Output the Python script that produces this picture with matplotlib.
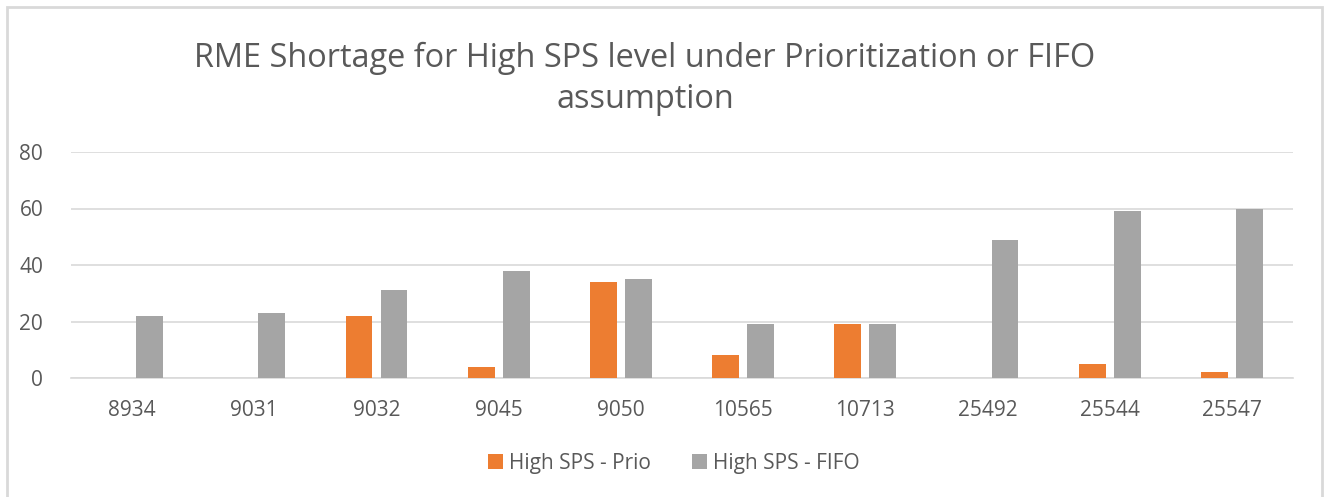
import matplotlib
matplotlib.use('Agg')
from matplotlib import pyplot as plt
from matplotlib.patches import Rectangle
import numpy as np

plt.rcParams['font.family'] = ['Open Sans', 'DejaVu Sans']

# data
categories = ['8934', '9031', '9032', '9045', '9050', '10565', '10713', '25492', '25544', '25547']
prio = [0, 0, 22, 4, 34, 8, 19, 0, 5, 2]
fifo = [22, 23, 31, 38, 35, 19, 19, 49, 59, 60]

W, H = 1328, 497
fig = plt.figure(figsize=(W/100, H/100), dpi=100)

# chart border
fig.patches.append(Rectangle((6.5/W, -0.05), (1322-6.5)/W, 1.05 - 7/H,
                             transform=fig.transFigure, fill=False,
                             edgecolor='#d9d9d9', linewidth=2))

ax = fig.add_axes([71/W, 1-378/H, (1293-71)/W, (378-152)/H])

x = np.arange(len(categories))
bw = 0.22
off = 0.143
ax.bar(x - off, prio, bw, color='#ed7d31', label='High SPS - Prio', zorder=3)
ax.bar(x + off, fifo, bw, color='#a5a5a5', label='High SPS - FIFO', zorder=3)

ax.set_xlim(-0.5, len(categories) - 0.5)
ax.set_ylim(0, 80)
ax.set_yticks([0, 20, 40, 60, 80])
ax.set_xticks(x)
ax.set_xticklabels(categories)
ax.grid(axis='y', color='#d9d9d9', linewidth=1.2, zorder=0)
for s in ['top', 'right', 'left']:
    ax.spines[s].set_visible(False)
ax.spines['bottom'].set_color('#d9d9d9')
ax.spines['bottom'].set_linewidth(1.2)
ax.tick_params(axis='both', length=0, labelsize=15, colors='#595959')
ax.tick_params(axis='x', pad=16)
ax.tick_params(axis='y', pad=20)

fig.text(645/W, 1-79/H, 'RME Shortage for High SPS level under Prioritization or FIFO\nassumption',
         ha='center', va='center', fontsize=23.4, color='#595959', linespacing=1.3)

leg = ax.legend(loc='center', bbox_to_anchor=(674/W, 1-463/H), bbox_transform=fig.transFigure,
                ncol=2, frameon=False, fontsize=15, handlelength=0.7, handleheight=0.7,
                handletextpad=0.3, columnspacing=2.0)
for t in leg.get_texts():
    t.set_color('#595959')

plt.savefig('out.png', dpi=100)
